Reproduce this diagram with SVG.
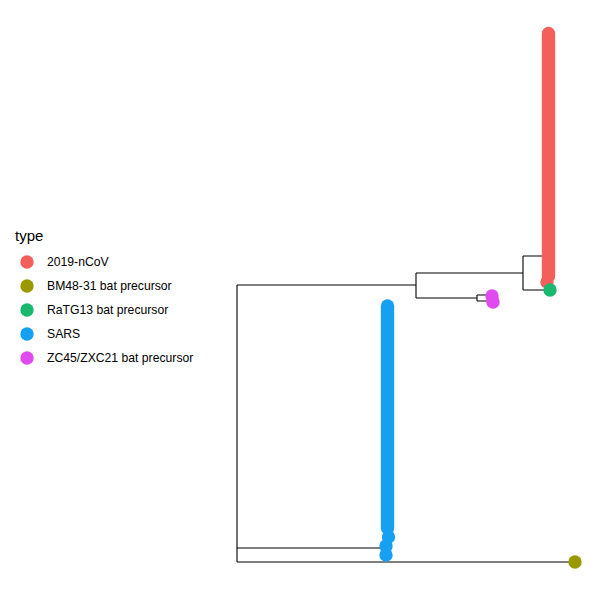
<svg xmlns="http://www.w3.org/2000/svg" width="600" height="600" viewBox="0 0 600 600">
<style>
.br{stroke:#000;stroke-width:1.1;fill:none;stroke-linecap:butt}
.lt{font-family:"Liberation Sans",Arial,sans-serif;font-size:12.2px;fill:#000}
.tt{font-family:"Liberation Sans",Arial,sans-serif;font-size:15px;fill:#000}
</style>
<rect width="600" height="600" fill="#fff"/>
<g id="connectors">
<path class="br" d="M237,285V562M237,464V555"/>
<path class="br" d="M237,285H416M416,273V298M416,273H523M416,298H477"/>
<path class="br" d="M523,256V290M523,256H546M523,290H550"/>
<path class="br" d="M477,295V301M477,295H491M477,301H492"/>
<path class="br" d="M237,548H382M237,562H575"/>
</g>
<g id="node-2019-nCoV">
<line x1="548.5" y1="33.5" x2="548.5" y2="276" stroke="#F35F5A" stroke-width="13.4" stroke-linecap="round"/>
<circle cx="547" cy="282" r="6.7" fill="#F35F5A"/>
</g>
<g id="node-RaTG13">
<circle cx="550" cy="290" r="6.7" fill="#18B86E"/>
</g>
<g id="node-ZC45">
<circle cx="492" cy="296" r="6.7" fill="#E04BEF"/>
<circle cx="493" cy="302" r="6.7" fill="#E04BEF"/>
</g>
<g id="node-SARS">
<line x1="387.5" y1="306" x2="387.5" y2="528" stroke="#16A0F2" stroke-width="13.4" stroke-linecap="round"/>
<circle cx="388.5" cy="537" r="6.7" fill="#16A0F2"/>
<circle cx="386" cy="546" r="6.7" fill="#16A0F2"/>
<circle cx="386" cy="555" r="6.7" fill="#16A0F2"/>
</g>
<g id="node-BM48-31">
<circle cx="575" cy="562" r="6.7" fill="#9A9A00"/>
</g>
<g id="legend">
<text class="tt" x="15" y="241">type</text>
<circle cx="27" cy="262" r="6.7" fill="#F35F5A"/>
<text class="lt" x="47" y="266">2019-nCoV</text>
<circle cx="27" cy="286" r="6.7" fill="#9A9A00"/>
<text class="lt" x="47" y="290">BM48-31 bat precursor</text>
<circle cx="27" cy="310" r="6.7" fill="#18B86E"/>
<text class="lt" x="47" y="314">RaTG13 bat precursor</text>
<circle cx="27" cy="334" r="6.7" fill="#16A0F2"/>
<text class="lt" x="47" y="338">SARS</text>
<circle cx="27" cy="358" r="6.7" fill="#E04BEF"/>
<text class="lt" x="47" y="362">ZC45/ZXC21 bat precursor</text>
</g>
</svg>
